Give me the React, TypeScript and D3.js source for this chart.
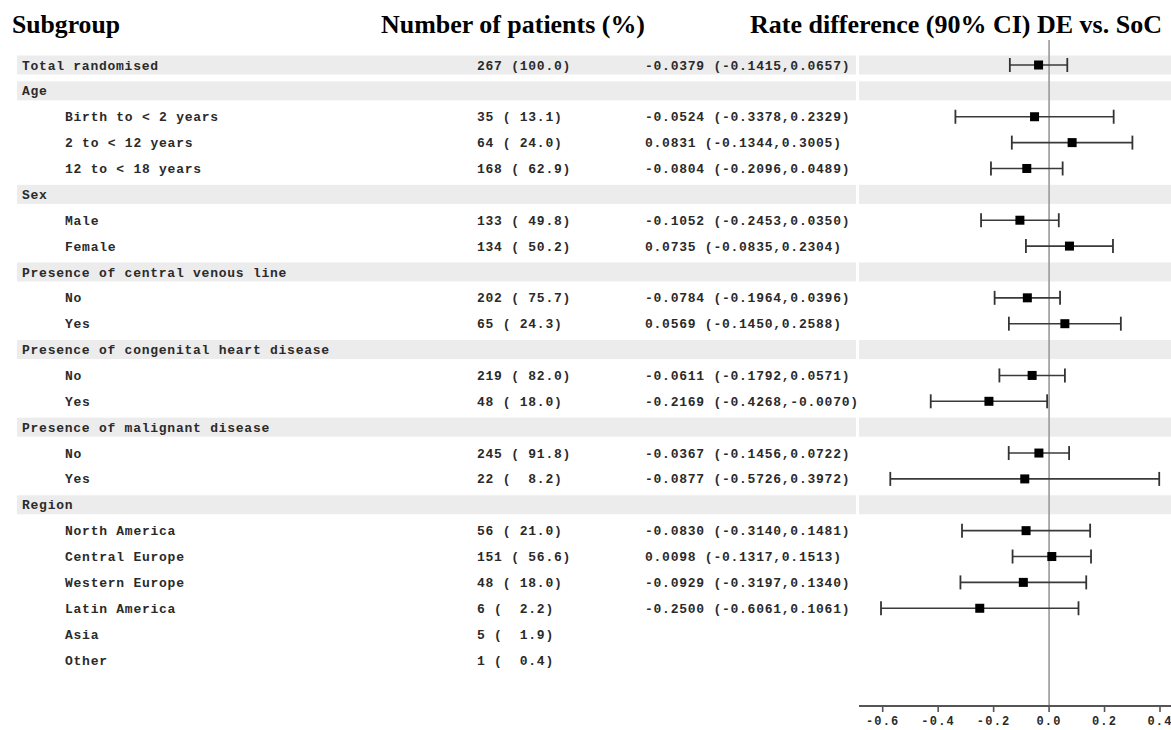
import React from 'react';
import * as d3 from 'd3';

const labels = [
  'Total randomised', 'Age', 'Birth to < 2 years', '2 to < 12 years', '12 to < 18 years',
  'Sex', 'Male', 'Female',
  'Presence of central venous line', 'No', 'Yes',
  'Presence of congenital heart disease', 'No', 'Yes',
  'Presence of malignant disease', 'No', 'Yes',
  'Region', 'North America', 'Central Europe', 'Western Europe', 'Latin America', 'Asia', 'Other',
];
const isHeader = [
  true, true, false, false, false,
  true, false, false,
  true, false, false,
  true, false, false,
  true, false, false,
  true, false, false, false, false, false, false,
];
const nPatients = [267, null, 35, 64, 168, null, 133, 134, null, 202, 65, null, 219, 48, null, 245, 22, null, 56, 151, 48, 6, 5, 1];
const pctPatients = [100.0, null, 13.1, 24.0, 62.9, null, 49.8, 50.2, null, 75.7, 24.3, null, 82.0, 18.0, null, 91.8, 8.2, null, 21.0, 56.6, 18.0, 2.2, 1.9, 0.4];
const estimate = [-0.0379, null, -0.0524, 0.0831, -0.0804, null, -0.1052, 0.0735, null, -0.0784, 0.0569, null, -0.0611, -0.2169, null, -0.0367, -0.0877, null, -0.0830, 0.0098, -0.0929, -0.2500, null, null];
const lowerCI = [-0.1415, null, -0.3378, -0.1344, -0.2096, null, -0.2453, -0.0835, null, -0.1964, -0.1450, null, -0.1792, -0.4268, null, -0.1456, -0.5726, null, -0.3140, -0.1317, -0.3197, -0.6061, null, null];
const upperCI = [0.0657, null, 0.2329, 0.3005, 0.0489, null, 0.0350, 0.2304, null, 0.0396, 0.2588, null, 0.0571, -0.0070, null, 0.0722, 0.3972, null, 0.1481, 0.1513, 0.1340, 0.1061, null, null];
const xTicks = [-0.6, -0.4, -0.2, 0.0, 0.2, 0.4];

const W = 1171;
const H = 730;
const mono = '"Liberation Mono", "DejaVu Sans Mono", monospace';
const serif = '"Liberation Serif", "Times New Roman", serif';

const fmtN = (n: number, p: number) => `${n} (${p.toFixed(1).padStart(5, ' ')})`;
const fmtRd = (e: number, l: number, u: number) => `${e.toFixed(4)} (${l.toFixed(4)},${u.toFixed(4)})`;

export default function App() {
  const x = d3.scaleLinear().domain([-0.6, 0.4]).range([882.7, 1160]);
  const y = d3.scaleLinear().domain([0, labels.length - 1]).range([65, 660]);
  const axisY = 706;
  const bandH = 19;

  const textStyle = { fontFamily: mono, fontSize: 13, fontWeight: 700, letterSpacing: 0.75, fill: '#2a2a2a' };

  return (
    <svg width={W} height={H} style={{ position: 'absolute', left: 0, top: 0, background: '#fff' }}>
      {/* header bands */}
      {labels.map((_, i) => isHeader[i] ? (
        <g key={'b' + i}>
          <rect x={17} y={y(i) - bandH / 2} width={839} height={bandH} fill="#ececec" />
          <rect x={859} y={y(i) - bandH / 2} width={W - 859} height={bandH} fill="#ececec" />
        </g>
      ) : null)}

      {/* column titles */}
      <text x={12} y={33} fontFamily={serif} fontSize={25} fontWeight={700} textLength={108} lengthAdjust="spacingAndGlyphs">Subgroup</text>
      <text x={381} y={33} fontFamily={serif} fontSize={25} fontWeight={700} textLength={264} lengthAdjust="spacingAndGlyphs">Number of patients (%)</text>
      <text x={750} y={33} fontFamily={serif} fontSize={25} fontWeight={700} textLength={412} lengthAdjust="spacingAndGlyphs">Rate difference (90% CI) DE vs. SoC</text>

      {/* zero line */}
      <line x1={x(0)} x2={x(0)} y1={40} y2={axisY} stroke="#999" strokeWidth={1.6} />

      {/* rows */}
      {labels.map((lab, i) => (
        <g key={'r' + i}>
          <text x={isHeader[i] ? 22 : 65} y={y(i)} dy="0.35em" style={textStyle}>{lab}</text>
          {nPatients[i] != null && (
            <text x={477} y={y(i)} dy="0.35em" style={{ ...textStyle, whiteSpace: 'pre' }} xmlSpace="preserve">
              {fmtN(nPatients[i] as number, pctPatients[i] as number)}
            </text>
          )}
          {estimate[i] != null && (
            <text x={645} y={y(i)} dy="0.35em" style={textStyle}>
              {fmtRd(estimate[i] as number, lowerCI[i] as number, upperCI[i] as number)}
            </text>
          )}
          {estimate[i] != null && (
            <g>
              <line x1={x(lowerCI[i] as number)} x2={x(upperCI[i] as number)} y1={y(i)} y2={y(i)} stroke="#3a3a3a" strokeWidth={1.6} />
              <line x1={x(lowerCI[i] as number)} x2={x(lowerCI[i] as number)} y1={y(i) - 7} y2={y(i) + 7} stroke="#333" strokeWidth={1.8} />
              <line x1={x(upperCI[i] as number)} x2={x(upperCI[i] as number)} y1={y(i) - 7} y2={y(i) + 7} stroke="#333" strokeWidth={1.8} />
              <rect x={x(estimate[i] as number) - 4.5} y={y(i) - 4.5} width={9} height={9} fill="#000" />
            </g>
          )}
        </g>
      ))}

      {/* x axis */}
      <line x1={859} x2={W} y1={axisY} y2={axisY} stroke="#555" strokeWidth={2} />
      {xTicks.map(t => (
        <g key={'t' + t} transform={`translate(${x(t)},${axisY})`}>
          <line y1={0} y2={6} stroke="#555" strokeWidth={1.6} />
          <text y={15} textAnchor="middle" dy="0.35em" style={{ ...textStyle, fontSize: 12, letterSpacing: 1.2 }}>{t.toFixed(1)}</text>
        </g>
      ))}
    </svg>
  );
}
